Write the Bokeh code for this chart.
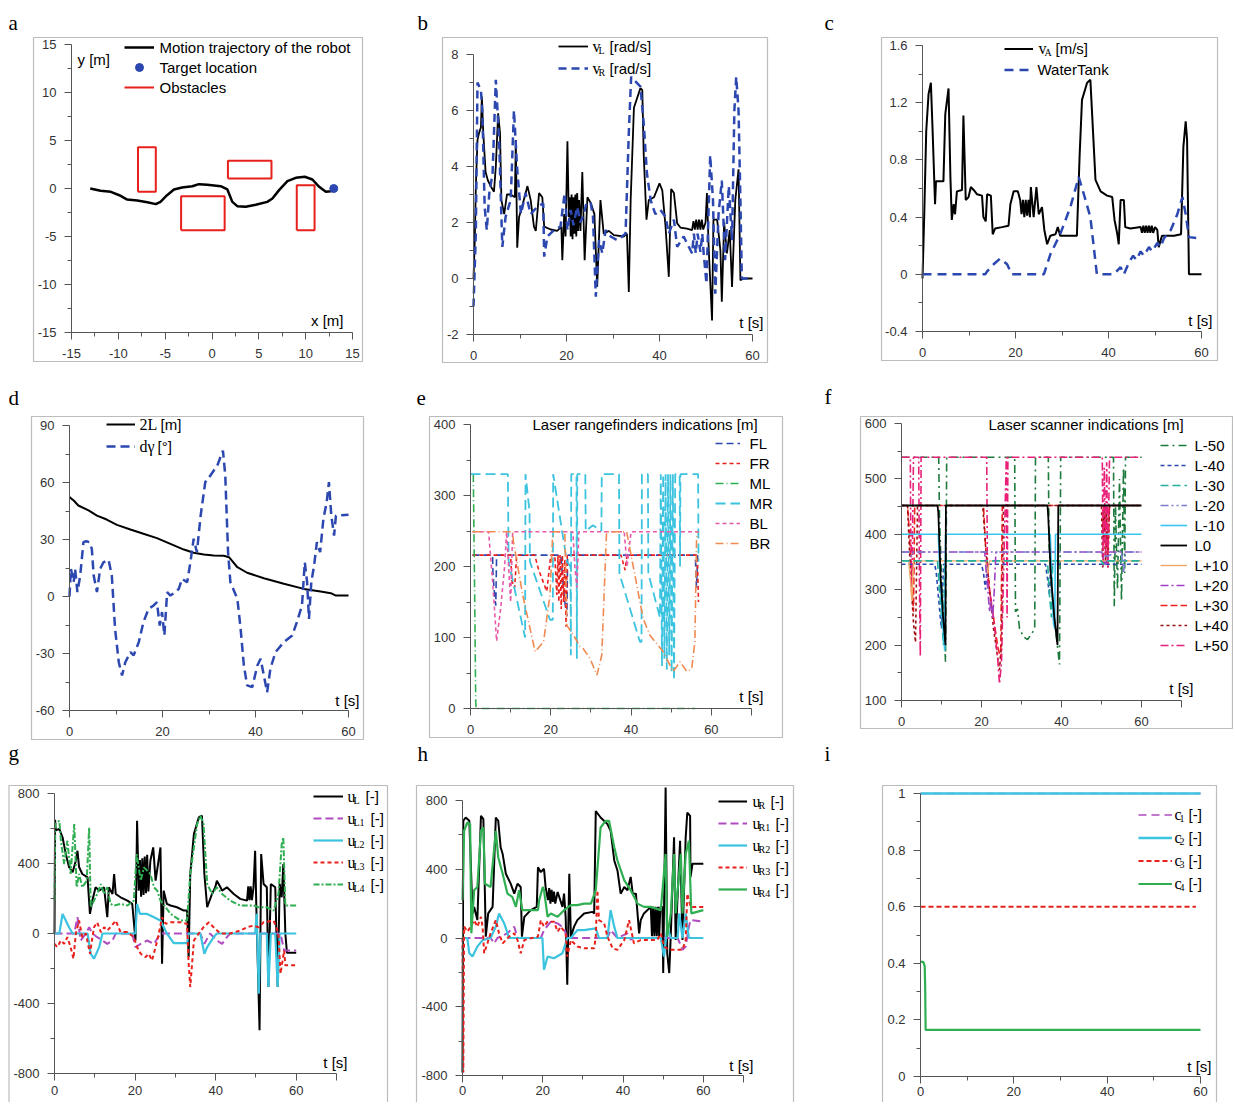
from bokeh.plotting import figure
from bokeh.models import (Range1d, Label, BoxAnnotation, Legend, LegendItem,
                          FixedTicker, CustomJSTickFormatter)
from bokeh.layouts import column, row
from bokeh.embed import file_html
from bokeh.resources import INLINE

SANS = "Liberation Sans"
SERIF = "Liberation Serif"

BLACK = "#000000"; BLUE = "#2c48b0"; RED = "#e8201c"; CYAN = "#3cc3df"
PURPLE = "#b04cc0"; GREEN = "#2fae52"; ORANGE = "#f08a50"; PINK = "#e85aa8"
DKGREEN = "#1e7a3c"; TEAL = "#22b09a"; LAVENDER = "#7c7cd0"; SKY = "#38c6f0"
LORANGE = "#f0a868"; VIOLET = "#a040c0"; BRED = "#f02020"; DKRED = "#9a1010"; MAGENTA = "#e82078"

# ---------------- ticks ----------------
A_TICKS = [-15, -10, -5, 0, 5, 10, 15]
A_MINOR = [-12.5, -7.5, -2.5, 2.5, 7.5, 12.5]
T60 = [0, 20, 40, 60]
T60_MINOR = [10, 30, 50]
T70 = [0, 20, 40, 60, 70]
B_Y = [-2, 0, 2, 4, 6, 8]; B_YM = [-1, 1, 3, 5, 7]
C_Y = [-0.4, 0, 0.4, 0.8, 1.2, 1.6]; C_YM = [-0.2, 0.2, 0.6, 1.0, 1.4]
D_Y = [-60, -30, 0, 30, 60, 90]; D_YM = [-45, -15, 15, 45, 75]
E_Y = [0, 100, 200, 300, 400]; E_YM = [50, 150, 250, 350]
F_Y = [100, 200, 300, 400, 500, 600]; F_YM = [150, 250, 350, 450, 550]
G_Y = [-800, -400, 0, 400, 800]; G_YM = [-600, -200, 200, 600]
I_Y = [0, 0.2, 0.4, 0.6, 0.8, 1]; I_YM = [0.1, 0.3, 0.5, 0.7, 0.9]

# ---------------- panel a ----------------
A_TRAJ = [(-13.0, 0.0), (-11.9, -0.24), (-10.8, -0.35), (-9.9, -0.7), (-9.05, -1.15), (-7.98, -1.25),
          (-6.9, -1.43), (-6.0, -1.63), (-5.5, -1.39), (-4.8, -0.7), (-4.06, -0.1), (-3.2, 0.1),
          (-2.1, 0.24), (-1.4, 0.45), (-0.5, 0.38), (0.93, 0.24), (1.64, -0.1), (2.17, -1.39),
          (2.7, -1.84), (3.6, -1.91), (4.67, -1.7), (5.9, -1.39), (6.45, -1.04), (7.16, -0.17),
          (8.05, 0.76), (8.94, 1.11), (9.9, 1.22), (10.72, 0.94), (11.44, 0.17), (12.15, -0.35),
          (12.68, -0.28), (13.0, -0.03)]
A_TARGET_X = [13.0]
A_TARGET_Y = [0.0]
A_OBS_X0 = [-7.9, -3.3, 1.7, 9.05]
A_OBS_X1 = [-6.0, 1.35, 6.35, 10.95]
A_OBS_Y0 = [-0.35, -4.35, 1.05, -4.35]
A_OBS_Y1 = [4.3, -0.8, 2.9, 0.35]

# ---------------- panel b ----------------
B_VL = [(0, 0), (0.3, 1.5), (0.5, 3.3), (0.86, 4.95), (1.2, 5.2), (1.6, 5.4), (1.8, 6.5), (2.1, 5.2),
        (2.6, 3.8), (3.1, 3.5), (3.7, 3.3), (4.4, 3.1), (4.8, 4.0), (5.3, 5.9), (5.7, 5.2), (6.0, 2.8),
        (6.6, 2.3), (7.2, 3.0), (8.0, 3.0), (8.9, 2.9), (9.1, 4.95), (9.4, 1.1), (9.8, 2.2), (10.5, 2.6),
        (11.6, 3.3), (12.3, 2.8), (13.0, 1.85), (13.4, 1.7), (14.1, 3.05), (14.8, 2.9), (15.2, 1.85),
        (16.6, 1.75), (18.0, 1.7), (18.9, 1.85), (19.1, 0.65), (19.5, 2.3), (19.8, 1.5), (20.2, 4.9),
        (20.5, 2.2), (20.7, 2.9), (20.9, 1.5), (21.1, 3.0), (21.3, 1.4), (21.5, 2.9), (21.7, 1.6),
        (21.9, 3.0), (22.1, 1.5), (22.3, 3.05), (22.5, 1.7), (22.7, 2.8), (23.0, 1.7), (23.4, 3.8),
        (23.9, 0.65), (24.5, 2.9), (25.2, 2.7), (26.0, 2.3), (26.6, -0.3), (27.3, 2.8), (28.0, 1.6),
        (29.1, 1.7), (30.2, 1.55), (32.3, 1.5), (33.0, 1.6), (33.4, -0.48), (33.8, 2.8), (34.5, 6.1),
        (35.9, 6.8), (36.3, 6.73), (36.6, 4.45), (37.2, 2.1), (37.7, 2.8), (38.8, 2.9), (40.0, 3.4),
        (40.6, 3.15), (41.3, 1.85), (42.0, 0.06), (42.5, 3.2), (43.1, 3.05), (43.8, 1.97), (44.5, 1.82),
        (45.9, 1.78), (47.0, 1.73), (47.3, 2.05), (47.6, 1.75), (47.9, 2.1), (48.2, 1.75), (48.5, 2.1),
        (48.8, 1.75), (49.1, 2.1), (49.4, 1.75), (49.9, 2.0), (50.2, 3.05), (50.6, 1.0), (51.3, -1.5),
        (51.6, 2.1), (52.4, 2.1), (53.1, 1.0), (53.4, -0.83), (53.9, 2.0), (54.5, 0.9), (55.1, 1.73),
        (55.6, -0.3), (56.3, 2.8), (57.0, 3.9), (57.4, -0.06), (58.1, 0), (60, 0)]
B_VR = [(0, -1.0), (0.5, 1.6), (0.86, 7.0), (1.6, 6.7), (1.9, 6.0), (2.4, 2.55), (2.86, 1.73), (3.4, 3.05),
        (4.1, 3.75), (4.8, 7.1), (5.5, 4.95), (6.2, 1.13), (6.9, 2.2), (8.0, 2.8), (8.7, 6.0), (9.4, 3.9),
        (10.2, 2.3), (11.2, 3.05), (12.3, 2.3), (13.7, 2.56), (15.0, 2.68), (15.2, 0.78), (15.9, 1.5),
        (17.3, 1.73), (18.7, 1.85), (19.6, 3.05), (20.2, 1.73), (20.9, 2.45), (21.5, 1.9), (22.3, 2.56),
        (23.0, 2.0), (23.7, 2.3), (24.3, 2.7), (25.2, 2.7), (25.7, 2.2), (26.3, -0.65), (27.0, 1.37),
        (27.7, 0.9), (28.4, 1.73), (29.5, 1.5), (30.9, 1.37), (32.7, 1.6), (33.4, 5.2), (33.9, 7.2),
        (35.9, 6.85), (36.6, 5.55), (37.3, 3.75), (38.1, 2.8), (39.1, 2.3), (40.2, 2.45), (41.3, 2.2),
        (42.0, 1.6), (43.1, 2.1), (43.8, 1.13), (45.2, 1.5), (47.0, 0.9), (47.4, 1.6), (47.8, 0.9),
        (48.2, 1.6), (48.8, 0.95), (49.2, 1.6), (49.5, 0.9), (50.1, -0.18), (50.9, 4.4), (51.5, 2.8),
        (52.0, -0.54), (52.7, 2.3), (53.4, 3.5), (54.1, 0.65), (54.9, 3.3), (55.6, 1.37), (56.1, 6.0),
        (56.5, 7.2), (57.0, 6.0), (57.4, 2.8), (57.7, 0), (60, 0)]

# ---------------- panel c ----------------
C_VA = [(0, -0.03), (0.36, 0.4), (0.8, 1.0), (1.3, 1.26), (1.8, 1.34), (2.2, 0.98), (2.7, 0.49), (2.9, 0.65),
        (4.5, 0.65), (4.9, 1.12), (5.6, 1.3), (6.0, 0.68), (6.3, 0.38), (6.7, 0.49), (7.0, 0.42), (7.4, 0.58),
        (8.5, 0.59), (8.8, 1.11), (9.3, 0.52), (9.9, 0.54), (10.4, 0.61), (11.0, 0.59), (11.7, 0.56),
        (12.8, 0.55), (13.1, 0.4), (13.6, 0.37), (13.9, 0.56), (14.7, 0.55), (15.1, 0.28), (15.6, 0.32),
        (17.1, 0.33), (18.5, 0.34), (18.9, 0.49), (19.6, 0.58), (20.5, 0.58), (21.0, 0.52), (21.3, 0.42),
        (21.6, 0.52), (21.9, 0.4), (22.2, 0.52), (22.5, 0.41), (22.8, 0.52), (23.1, 0.4), (23.3, 0.61),
        (23.9, 0.4), (24.5, 0.61), (25.0, 0.42), (25.7, 0.47), (26.2, 0.31), (26.8, 0.21), (27.5, 0.27),
        (28.6, 0.28), (29.1, 0.33), (29.6, 0.27), (33.2, 0.27), (33.8, 0.84), (34.3, 1.22), (35.4, 1.34),
        (36.1, 1.36), (36.7, 0.98), (37.2, 0.66), (38.3, 0.58), (39.7, 0.55), (40.8, 0.54), (41.3, 0.38),
        (41.9, 0.28), (42.2, 0.21), (42.6, 0.52), (43.3, 0.52), (43.6, 0.33), (44.7, 0.32), (46.9, 0.33),
        (47.2, 0.29), (47.5, 0.34), (47.8, 0.29), (48.1, 0.34), (48.4, 0.29), (48.7, 0.34), (49.0, 0.29),
        (49.3, 0.34), (49.6, 0.29), (50.0, 0.33), (50.5, 0.31), (50.8, 0.19), (51.5, 0.27), (54.1, 0.27),
        (55.6, 0.28), (56.1, 0.89), (56.6, 1.07), (56.9, 0.94), (57.3, 0.0), (60, 0.0)]
C_WT = [(0, 0), (13.5, 0), (13.9, 0.02), (15.3, 0.07), (16.7, 0.11), (18.2, 0.07), (19.2, 0), (26.1, 0),
        (27.5, 0.14), (29.6, 0.28), (31.8, 0.47), (33.6, 0.68), (34.7, 0.56), (36.1, 0.4), (37.5, 0),
        (41.1, 0), (42.6, 0.05), (43.3, 0), (44.5, 0.09), (45.3, 0.13), (46.0, 0.1), (46.9, 0.16),
        (47.6, 0.13), (48.7, 0.19), (49.4, 0.16), (50.5, 0.22), (51.2, 0.19), (51.9, 0.25), (53.4, 0.31),
        (54.8, 0.42), (55.9, 0.54), (56.6, 0.42), (57.3, 0.26), (60, 0.25)]

# ---------------- panel d ----------------
D_2L = [(0, 52.3), (0.9, 50.5), (1.9, 47.9), (4.1, 45.3), (5.9, 42.6), (8.0, 40.5), (10.2, 37.7),
        (13.1, 35.3), (15.9, 33.0), (18.8, 30.7), (21.7, 27.7), (24.6, 24.7), (26.7, 23.0), (28.9, 22.1),
        (31.0, 21.6), (33.2, 21.4), (34.3, 20.7), (36.1, 15.4), (38.2, 12.5), (41.8, 9.6), (46.1, 6.7),
        (50.4, 4.0), (54.0, 2.6), (56.2, 1.75), (57.3, 0.5), (60, 0.5)]
D_DG = [(0, 0), (0.3, 14.6), (0.9, 7.5), (1.2, 14.6), (1.7, 2.3), (2.3, 11), (3.0, 28.6), (3.6, 29.1),
        (4.3, 28.6), (4.8, 25.1), (5.2, 11), (5.9, 2.3), (6.6, 14.6), (7.3, 18), (8.4, 19.3), (9.1, 11),
        (9.8, -17), (10.6, -34.6), (11.3, -41.6), (12.0, -34.6), (13.1, -29.3), (13.8, -31), (14.9, -24),
        (15.9, -13.5), (17.0, -6.5), (18.1, -4.7), (18.8, -3), (19.4, -15.3), (19.9, -8.2), (20.4, -20.5),
        (21.0, 2.3), (21.7, 0.5), (22.8, 2.3), (23.5, 4.0), (24.2, 9.3), (25.3, 7.5), (26.0, 18),
        (26.7, 30.4), (27.4, 23.3), (28.2, 42.6), (29.2, 60.2), (30.3, 63.7), (31.8, 69.0), (33.0, 76.8),
        (33.5, 63.7), (34.1, 23.3), (34.6, 7.5), (36.1, -1.2), (36.8, -17), (37.5, -36.3), (38.2, -46.8),
        (39.3, -47.7), (40.4, -36.3), (41.1, -32.8), (41.8, -41.6), (42.5, -50.4), (43.2, -38),
        (44.3, -29.3), (46.1, -24), (47.9, -20.5), (48.9, -13.5), (50.0, -4.7), (50.6, 18), (51.1, 7.5),
        (51.5, -11.8), (52.0, 7.5), (52.6, 16.3), (53.2, 28.6), (53.9, 23.3), (54.6, 40.8), (55.3, 49.6),
        (55.8, 60.2), (56.3, 42.6), (56.9, 32.1), (57.3, 42.6), (60, 43)]

# ---------------- panel e ----------------
E_FL = [(0.5, 216), (5.5, 216), (5.6, 190), (6.0, 160), (6.3, 145), (6.5, 216), (22.5, 216), (23.0, 180),
        (23.5, 150), (24.0, 130), (24.2, 216), (56.0, 216), (56.3, 170), (56.6, 216)]
E_FR = [(0.5, 216), (10.0, 216), (10.3, 180), (11.0, 170), (11.5, 216), (16.0, 216), (17.0, 195),
        (19.0, 165), (20.0, 216), (21.0, 216), (21.5, 160), (21.8, 216), (22.0, 150), (22.3, 216),
        (22.6, 140), (22.9, 216), (23.2, 150), (23.5, 210), (23.8, 115), (24.1, 216), (37.5, 216),
        (38.5, 195), (39.0, 216), (56.5, 216), (56.8, 150)]
E_ML = [(0.7, 330), (1.0, 180), (1.3, 10), (1.4, 0), (56.0, 0)]
E_MR = [(0, 330), (9.3, 330), (9.5, 207), (13.6, 100), (13.7, 330), (14.7, 278), (14.8, 207), (19.8, 125),
        (20.5, 125), (20.6, 330), (24.0, 207), (24.9, 200), (25.0, 75), (25.1, 330), (26.4, 330),
        (26.5, 70), (26.6, 330), (28.6, 330), (28.7, 250), (30.5, 258), (32.6, 250), (32.7, 330),
        (37.0, 330), (37.1, 190), (42.2, 94), (42.6, 94), (42.7, 330), (44.2, 330), (44.3, 190),
        (47.2, 128), (47.4, 330), (47.7, 60), (48.0, 330), (48.3, 70), (48.6, 330), (48.9, 55),
        (49.2, 330), (49.5, 75), (49.8, 330), (50.1, 50), (50.4, 330), (50.7, 40), (51.0, 330),
        (52.1, 330), (52.2, 200), (52.3, 330), (56.7, 330), (56.8, 207)]
E_BL = [(0.5, 249), (4.5, 249), (5.5, 180), (6.5, 95), (7.5, 140), (8.5, 200), (9.0, 249), (10.0, 150),
        (10.5, 249), (25.5, 249), (26.0, 200), (26.5, 170), (27.0, 249), (38.3, 249), (39.0, 200),
        (40.0, 249), (57.0, 249)]
E_BR = [(0.5, 249), (10.5, 249), (10.7, 235), (13.0, 160), (16.1, 80), (18.2, 94), (19.8, 160), (20.5, 249),
        (23.5, 249), (24.0, 117), (26.0, 100), (27.3, 87), (28.0, 85), (29.8, 70), (31.5, 47), (32.7, 75),
        (33.5, 192), (33.9, 249), (38.9, 249), (43.0, 127), (44.7, 103), (48.0, 80), (50.5, 52),
        (52.2, 66), (53.9, 52), (55.1, 56), (55.9, 94), (56.3, 235), (56.5, 249)]

# ---------------- panel f ----------------
F_LM50 = [(0, 539), (9.3, 539), (9.5, 430), (10.0, 320), (10.5, 250), (11.0, 170), (11.3, 539), (28.3, 539),
          (28.5, 260), (29.0, 265), (29.5, 230), (30.5, 215), (31.5, 210), (32.5, 220), (33.3, 230),
          (33.5, 539), (36.7, 539), (36.9, 380), (37.5, 300), (38.5, 230), (39.5, 165), (39.8, 539),
          (53.0, 539), (53.2, 270), (53.5, 450), (54.0, 300), (54.5, 500), (55.0, 280), (55.5, 520),
          (55.8, 330), (56.0, 539), (60, 539)]
F_LM40 = [(0, 346), (8.3, 346), (8.7, 330), (9.2, 290), (9.7, 250), (10.0, 230), (10.5, 346), (20.0, 346),
          (20.5, 330), (21.0, 300), (21.5, 346), (36.0, 346), (36.5, 320), (37.0, 290), (37.3, 346), (60, 346)]
F_LM30 = [(0, 352), (9.0, 352), (9.5, 300), (10.0, 250), (10.5, 200), (10.8, 352), (36.5, 352), (37.0, 290),
          (37.5, 250), (37.8, 352), (50.0, 352), (50.5, 345), (51.0, 352), (60, 352)]
F_LM20 = [(0, 368), (2.0, 368), (2.5, 360), (3.0, 368), (50.0, 368), (51.0, 360), (55.0, 370), (55.5, 330),
          (56.0, 368), (60, 368)]
F_LM10 = [(0, 400), (9.2, 400), (9.6, 330), (10.2, 250), (10.8, 190), (11.0, 400), (37.2, 400), (37.5, 330),
          (38.0, 240), (38.3, 230), (38.5, 400), (60, 400)]
F_L0 = [(0, 452), (9.0, 452), (9.2, 440), (9.8, 320), (10.4, 250), (11.0, 200), (11.1, 452), (36.5, 452),
        (36.7, 430), (37.3, 330), (38.2, 250), (39.0, 200), (39.2, 452), (60, 452)]
F_LP10 = [(0, 352), (1.8, 352), (2.2, 320), (2.6, 280), (3.0, 352), (21.0, 352), (21.5, 330), (22.0, 352),
          (60, 352)]
F_LP20 = [(0, 368), (20.8, 368), (21.2, 330), (21.6, 300), (22.0, 260), (22.4, 280), (22.8, 250), (23.2, 300),
          (23.6, 368), (50.0, 368), (51.0, 345), (52.0, 368), (60, 368)]
F_LP30 = [(0, 452), (1.5, 452), (2.0, 400), (2.5, 330), (3.0, 260), (3.3, 452), (20.5, 452), (21.0, 380),
          (22.0, 300), (23.0, 250), (24.0, 200), (24.8, 175), (25.2, 452), (50.3, 452), (50.5, 380),
          (51.0, 450), (51.5, 350), (52.0, 452), (60, 452)]
F_LP40 = [(0, 452), (1.5, 452), (2.0, 370), (2.5, 300), (3.0, 240), (3.5, 205), (4.0, 452), (20.3, 452),
          (21.0, 380), (22.0, 300), (23.0, 230), (24.0, 180), (24.5, 155), (25.0, 200), (25.5, 452),
          (50.0, 452), (50.3, 340), (50.6, 450), (51.0, 350), (51.3, 440), (51.6, 340), (52.0, 452), (60, 452)]
F_LP50 = [(0, 539), (2.2, 539), (2.3, 420), (2.6, 300), (3.0, 539), (4.3, 539), (4.5, 300), (4.7, 180),
          (4.9, 539), (21.3, 539), (21.5, 320), (22.0, 300), (23.0, 250), (24.0, 180), (24.5, 130),
          (25.0, 170), (26.2, 539), (26.4, 250), (26.6, 539), (50.2, 539), (50.4, 340), (50.7, 520),
          (51.0, 360), (51.3, 530), (51.6, 340), (52.0, 539), (60, 539)]

# ---------------- panel g ----------------
G_UL = [(0, 0), (0.15, 650), (0.3, 590), (1.2, 597), (2.0, 550), (2.8, 455), (3.6, 380), (4.5, 350),
        (5.3, 416), (5.7, 473), (6.1, 380), (6.9, 340), (8.2, 321), (8.8, 112), (9.4, 188), (10.2, 264),
        (11.1, 245), (12.3, 264), (13.1, 93), (13.5, 264), (14.4, 226), (14.8, 340), (15.2, 226),
        (16.4, 207), (18.1, 188), (19.3, 169), (20.1, -40), (20.5, 644), (20.9, 245), (21.2, 420),
        (21.5, 210), (21.8, 430), (22.1, 220), (22.4, 440), (22.7, 230), (23.0, 450), (23.3, 240),
        (23.8, 416), (24.5, 492), (25.1, 302), (26.3, 492), (26.7, -173), (27.1, 245), (27.9, 169),
        (28.8, 160), (30.4, 150), (32.1, 131), (32.9, 131), (33.3, -135), (33.7, 340), (34.6, 568),
        (35.8, 663), (36.6, 673), (37.2, 340), (37.9, 150), (39.1, 226), (39.9, 264), (40.3, 302),
        (41.2, 264), (41.6, 245), (42.8, 264), (44.5, 226), (46.1, 198), (47.8, 188), (48.1, 270),
        (48.4, 190), (48.7, 270), (49.0, 190), (49.4, 264), (49.8, 473), (50.1, 150), (50.4, -116),
        (50.9, -553), (51.3, 454), (51.9, 283), (52.7, 264), (53.1, -306), (53.7, 283), (54.8, 264),
        (55.4, -306), (55.9, 283), (56.4, 207), (56.8, 397), (57.3, 0), (57.7, -110), (60, -110)]
G_UL1 = [(0, 0), (4.9, 0), (5.7, 93), (6.5, -40), (7.8, 0), (8.6, 36), (9.4, 0), (10.6, -21), (11.9, -40),
         (13.1, -59), (14.4, -40), (15.2, 0), (19.3, 0), (20.1, -78), (21.4, -59), (23.0, -40), (24.7, -59),
         (26.3, 0), (36.2, 0), (37.2, -59), (38.6, 0), (40.3, -40), (41.6, -59), (42.8, -21), (43.6, 0),
         (56.1, 0), (57.0, -97), (60, -97)]
G_UL2 = [(0, 0), (1.2, 0), (2.0, 112), (2.8, 74), (3.6, 36), (4.5, 0), (8.2, 0), (9.0, -116), (9.8, -144),
         (11.1, -78), (11.9, 0), (20.1, 0), (20.5, 169), (21.2, 112), (23.0, 112), (24.7, 93), (26.3, 74),
         (27.9, 0), (29.6, -55), (32.9, -55), (33.3, 0), (36.2, 0), (37.2, -116), (37.9, -78), (39.5, -21),
         (40.3, 0), (49.8, 0), (50.2, 112), (50.7, -344), (51.1, 0), (52.7, 0), (53.1, -306), (53.7, 0),
         (54.8, 0), (55.4, -306), (55.9, 0), (60, 0)]
G_UL3 = [(0, -59), (0.7, -78), (1.6, -40), (2.4, -59), (3.2, -21), (4.0, -78), (4.7, -144), (5.3, 0),
         (6.1, 74), (6.9, -21), (7.8, 0), (8.8, -116), (9.8, 36), (10.6, 64), (11.5, 8), (12.3, 36),
         (13.1, 17), (13.9, 36), (15.2, 74), (16.4, 8), (18.1, 8), (19.7, -21), (20.5, -78), (21.4, -116),
         (22.6, -135), (23.4, -116), (24.2, -154), (25.1, -78), (25.9, 0), (26.7, 93), (27.6, 55),
         (28.8, 64), (31.3, 64), (32.9, 55), (33.3, -173), (33.7, -306), (34.6, -40), (35.8, 0), (37.0, 36),
         (38.3, 64), (39.5, 36), (41.2, 0), (43.6, 0), (46.1, 17), (47.8, 36), (49.4, 45), (50.7, 36),
         (51.9, 64), (54.4, 74), (55.6, 0), (56.1, -230), (57.0, -97), (57.3, -182), (60, -182)]
G_UL4 = [(0, 188), (0.2, 625), (1.2, 644), (1.6, 530), (2.4, 397), (3.2, 530), (4.0, 340), (4.9, 625),
         (5.5, 264), (6.1, 340), (6.9, 264), (8.0, 302), (8.6, 606), (9.0, 150), (9.8, 188), (10.6, 226),
         (11.5, 283), (12.3, 226), (13.1, 264), (13.9, 169), (14.8, 160), (16.4, 169), (18.1, 160),
         (19.7, 188), (20.4, 454), (21.4, 302), (22.2, 378), (23.0, 359), (23.8, 340), (24.7, 264),
         (25.5, 245), (26.3, 188), (27.6, 150), (28.8, 112), (31.3, 74), (32.9, 74), (33.7, 340),
         (35.4, 625), (36.2, 673), (37.0, 625), (37.9, 283), (39.1, 226), (40.3, 264), (41.6, 226),
         (43.6, 188), (46.1, 160), (49.4, 160), (50.7, 150), (52.7, 150), (54.4, 131), (55.6, 226),
         (56.4, 511), (56.8, 549), (57.3, 160), (60, 160)]

# ---------------- panel h ----------------
H_UR = [(0, -782), (0.2, 682), (0.8, 701), (1.7, 682), (2.5, 143), (2.9, 181), (3.7, 104), (4.6, 711),
        (5.2, 692), (5.8, 8), (6.4, 143), (7.5, 181), (8.3, 701), (8.9, 682), (9.5, 528), (10.0, 489),
        (10.8, 374), (12.0, 316), (12.9, 258), (13.7, 316), (14.5, 297), (14.8, 8), (15.4, 123), (17.0, 162),
        (18.5, 181), (18.8, 412), (19.5, 383), (20.3, 403), (20.7, 297), (21.3, 220), (21.6, 290),
        (21.9, 200), (22.2, 280), (22.5, 210), (22.8, 270), (23.1, 200), (23.7, 268), (24.9, 181),
        (25.3, 258), (25.7, 123), (26.1, -272), (26.6, 374), (27.0, 8), (27.8, 66), (28.6, 104), (30.3, 143),
        (32.4, 152), (32.8, 143), (33.2, 739), (34.4, 701), (36.1, 663), (36.9, 624), (37.8, 451),
        (38.6, 393), (39.4, 258), (40.3, 297), (41.1, 278), (41.9, 355), (42.4, 258), (43.2, 258),
        (43.6, 143), (44.0, 27), (44.4, 104), (45.2, 143), (46.9, 181), (47.2, 10), (47.5, 181), (47.8, 10),
        (48.1, 181), (48.4, 10), (48.7, 181), (49.0, 10), (49.3, 181), (49.8, 181), (50.0, -204),
        (50.6, 875), (51.0, -89), (51.5, -204), (51.9, 27), (52.7, 586), (53.1, -12), (54.2, 566),
        (54.8, -12), (55.6, 586), (56.0, 730), (56.7, 711), (56.8, 355), (57.3, 432), (60, 432)]
H_UR1 = [(0, 0), (7.0, 0), (7.9, -31), (8.7, 0), (11.2, 27), (12.0, 46), (12.9, 66), (13.7, 0), (19.5, 0),
         (20.3, 46), (22.0, 95), (23.7, 85), (25.3, 56), (26.1, 0), (36.1, 0), (36.9, 46), (38.6, 0),
         (41.1, 27), (41.9, -10), (42.7, 0), (53.6, 0), (54.8, -69), (55.6, -50), (56.4, 66), (56.8, 104),
         (60, 95)]
H_UR2 = [(0, 0), (1.2, 0), (1.7, -89), (2.5, -108), (3.7, -50), (5.0, -12), (7.0, 0), (8.3, 66), (9.1, 143),
         (10.4, 85), (11.6, 0), (19.9, 0), (20.3, -185), (21.2, -108), (22.8, -118), (24.9, -89), (26.1, 0),
         (27.0, 0), (28.6, 46), (30.3, 46), (33.2, 56), (34.0, 0), (36.1, 0), (36.9, 162), (37.8, 66),
         (38.6, 0), (49.4, 0), (50.2, -108), (51.0, 66), (51.9, 0), (53.6, 0), (54.0, 143), (54.8, 0),
         (55.6, 143), (56.4, 0), (60, 0)]
H_UR3 = [(0, 0), (0.2, -782), (0.4, 66), (1.2, 37), (2.1, 66), (2.9, 104), (3.7, 66), (4.6, 123), (5.0, 66),
         (5.4, -89), (6.2, -31), (7.0, 27), (8.3, 104), (9.1, 27), (10.0, -31), (10.8, -12), (11.6, 8),
         (12.9, 27), (13.7, -12), (14.5, -89), (15.4, -12), (17.0, -2), (18.8, 8), (19.5, 104), (20.3, 66),
         (21.2, 95), (22.8, 95), (23.7, 37), (24.5, 66), (25.7, 27), (26.1, -108), (27.0, -12), (28.6, -50),
         (30.3, -60), (32.8, -60), (33.2, 8), (33.6, 278), (34.0, 104), (35.3, 85), (36.1, 8), (37.4, -60),
         (38.6, -69), (40.3, -12), (41.5, 104), (42.7, -31), (44.4, -12), (48.5, -12), (49.4, 27),
         (50.2, -50), (51.5, -69), (54.8, -69), (55.6, -12), (56.0, 258), (56.8, 181), (60, 181)]
H_UR4 = [(0, 220), (0.4, 624), (1.2, 672), (1.9, 663), (2.2, 27), (2.9, 278), (3.7, 297), (4.6, 624),
         (5.2, 643), (5.6, 316), (7.0, 297), (8.3, 624), (8.9, 470), (10.0, 374), (11.2, 258), (12.4, 239),
         (13.3, 181), (14.1, 278), (14.9, 162), (17.0, 162), (18.8, 162), (19.1, 220), (20.0, 297),
         (20.3, 278), (21.2, 123), (22.0, 143), (23.7, 123), (25.3, 162), (27.0, 191), (28.6, 191),
         (30.3, 200), (32.0, 200), (33.2, 278), (34.4, 643), (35.7, 682), (36.5, 682), (37.8, 528),
         (38.6, 451), (40.3, 335), (41.9, 278), (43.6, 200), (45.2, 181), (46.9, 181), (49.4, 162),
         (50.6, 489), (51.0, 8), (51.9, 143), (52.7, 489), (53.1, 143), (54.4, 489), (54.8, 143),
         (55.6, 489), (56.4, 566), (57.0, 143), (60, 162)]

# ---------------- panel i ----------------
I_C1 = [(0, 1.0), (60, 1.0)]
I_C2 = [(0, 1.0), (60, 1.0)]
I_C3 = [(0, 0.6), (59, 0.6)]
I_C4 = [(0, 0.405), (0.6, 0.405), (0.9, 0.39), (1.0, 0.32), (1.1, 0.165), (60, 0.165)]


def xy(pairs):
    return [q[0] for q in pairs], [q[1] for q in pairs]


def formatter(hide=None):
    if hide is None:
        return CustomJSTickFormatter(code="return String(tick);")
    return CustomJSTickFormatter(code="return tick == %s ? '' : String(tick);" % hide)


class Panel:
    """cell = (ox, oy, w, h) page px; axes = (l, t, r, b) page px of the plot area
    corresponding to x0..x1 / y1..y0.  The frame fills the whole cell; the axes are
    placed at the plot-area edges with fixed_location."""

    def __init__(self, cell, axes, xr, yr, xt, yt, box, letter, lxy, xhide=None, xstand=9):
        ox, oy, w, h = cell
        self.ox, self.oy, self.w, self.h = cell
        self.l, self.t, self.r, self.b = axes
        self.xr, self.yr = xr, yr
        p = figure(width=w, height=h,
                   x_range=Range1d(self.dx(ox), self.dx(ox + w)),
                   y_range=Range1d(self.dy(oy + h), self.dy(oy)),
                   output_backend="svg", toolbar_location=None, min_border=0)
        p.title.visible = False
        p.xgrid.visible = False
        p.ygrid.visible = False
        p.outline_line_color = None
        p.background_fill_color = "white"
        p.border_fill_color = "white"
        for ax, (maj, mino), hide, stand in ((p.xaxis[0], xt, xhide, xstand), (p.yaxis[0], yt, None, 8)):
            ax.ticker = FixedTicker(ticks=maj, minor_ticks=mino)
            ax.formatter = formatter(hide)
            ax.axis_line_color = "#555555"
            ax.axis_line_width = 1
            ax.major_tick_line_color = "#555555"
            ax.minor_tick_line_color = "#555555"
            ax.major_tick_in = 0
            ax.major_tick_out = 7
            ax.minor_tick_in = 0
            ax.minor_tick_out = 4
            ax.major_label_text_font = SANS
            ax.major_label_text_font_size = "13px"
            ax.major_label_text_color = "#333333"
            ax.major_label_standoff = stand
        p.xaxis[0].fixed_location = yr[0]
        p.xaxis[0].bounds = xr
        p.yaxis[0].fixed_location = xr[0]
        p.yaxis[0].bounds = yr
        bx0, by0, bx1, by1 = box
        p.add_layout(BoxAnnotation(left=self.dx(bx0), right=self.dx(bx1),
                                   top=self.dy(by0), bottom=self.dy(by1),
                                   fill_alpha=0, fill_color=None, line_color="#222222",
                                   line_width=1.2, level="underlay"))
        p.add_layout(Label(x=self.dx(lxy[0]), y=self.dy(lxy[1]), text=letter, text_font=SERIF,
                           text_font_size="21px", text_baseline="alphabetic", text_color="#000000"))
        self.p = p

    def dx(self, X):
        return self.xr[0] + (X - self.l) / (self.r - self.l) * (self.xr[1] - self.xr[0])

    def dy(self, Y):
        return self.yr[1] - (Y - self.t) / (self.b - self.t) * (self.yr[1] - self.yr[0])

    def line(self, pairs, color, width=2.0, dash="solid"):
        xs, ys = xy(pairs)
        return self.p.line(xs, ys, line_color=color, line_width=width, line_dash=dash)

    def text(self, X, Y, s, kind="sans", align="left"):
        font, size, off = {"sans": (SANS, "15px", 0), "serif": (SERIF, "16px", 0),
                           "sub": (SERIF, "10px", 4)}[kind]
        self.p.add_layout(Label(x=self.dx(X), y=self.dy(Y + off), text=s, text_font=font,
                                text_font_size=size, text_baseline="middle", text_align=align,
                                text_color="#000000"))

    def legend(self, rends, sx0, sx1, y0, gh, rows):
        n = len(rends)
        top = y0 - gh / 2.0
        vx = sx0 - self.ox
        vy = (self.oy + self.h) - top - n * gh
        leg = Legend(items=[LegendItem(label=" ", renderers=[r]) for r in rends],
                     location=(vx, vy), orientation="vertical",
                     glyph_width=int(sx1 - sx0), glyph_height=gh, label_height=gh, label_width=0,
                     label_standoff=0, padding=0, spacing=0, margin=0,
                     background_fill_alpha=0, border_line_alpha=0, label_text_font_size="1px")
        self.p.add_layout(leg)
        for i, pieces in enumerate(rows):
            yc = y0 + i * gh
            for X, s, kind in pieces:
                self.text(X, yc, s, kind)


W2 = 413   # right column width
H2 = 362   # bottom row height

# ================= panel a =================
A = Panel((0, 0, 410, 375), (71, 44, 352, 332), (-15, 15), (-15, 15), (A_TICKS, A_MINOR), (A_TICKS, A_MINOR),
          (33, 37, 362, 361), "a", (8, 22))
ax_, ay_ = xy(A_TRAJ)
ra1 = A.p.line(ax_, ay_, line_color=BLACK, line_width=2.5)
ra2 = A.p.scatter(A_TARGET_X, A_TARGET_Y, size=8, marker="circle", fill_color=BLUE, line_color=BLUE)
obs_xs = [[x0, x1, x1, x0, x0] for x0, x1 in zip(A_OBS_X0, A_OBS_X1)]
obs_ys = [[y0, y0, y1, y1, y0] for y0, y1 in zip(A_OBS_Y0, A_OBS_Y1)]
ra3 = A.p.multi_line(obs_xs, obs_ys, line_color=RED, line_width=2)
A.legend([ra1, ra2, ra3], 124, 154, 47, 20,
         [[(159, "Motion trajectory of the robot", "sans")], [(159, "Target location", "sans")],
          [(159, "Obstacles", "sans")]])
A.text(77, 59, "y [m]")
A.text(343, 320, "x [m]", align="right")

# ================= panel b =================
B = Panel((410, 0, 410, 375), (473, 54, 752, 334), (0, 60), (-2, 8), (T60, T60_MINOR), (B_Y, B_YM),
          (442, 37, 767, 362), "b", (417, 22))
rb1 = B.line(B_VL, BLACK, 1.8)
rb2 = B.line(B_VR, BLUE, 2.5, "8 5")
B.legend([rb1, rb2], 558, 588, 46, 22,
         [[(592, "v", "serif"), (598, "L", "sub"), (609, "[rad/s]", "sans")],
          [(592, "v", "serif"), (598, "R", "sub"), (609, "[rad/s]", "sans")]])
B.text(763, 322, "t [s]", align="right")

# ================= panel c =================
C = Panel((820, 0, W2, 375), (922, 45, 1201, 331), (0, 60), (-0.4, 1.6), (T60, T60_MINOR), (C_Y, C_YM),
          (881, 37, 1217, 360), "c", (824, 22))
rc1 = C.line(C_VA, BLACK, 2.0)
rc2 = C.line(C_WT, BLUE, 2.5, "9 6")
C.legend([rc1, rc2], 1004, 1033, 48, 21,
         [[(1038, "v", "serif"), (1044, "A", "sub"), (1055, "[m/s]", "sans")],
          [(1037, "WaterTank", "sans")]])
C.text(1212, 320, "t [s]", align="right")

# ================= panel d =================
D = Panel((0, 375, 410, 365), (69, 425, 348, 710), (0, 60), (-60, 90), (T60, T60_MINOR), (D_Y, D_YM),
          (31, 416, 363, 739), "d", (8, 397))
rd1 = D.line(D_2L, BLACK, 2.0)
rd2 = D.line(D_DG, BLUE, 2.5, "9 5")
D.legend([rd1, rd2], 106, 135, 424, 22,
         [[(139, "2L", "serif"), (160, "[m]", "sans")],
          [(139, "dγ", "serif"), (157, "[°]", "sans")]])
D.text(359, 700, "t [s]", align="right")

# ================= panel e =================
E = Panel((410, 375, 410, 365), (470, 424, 751, 708), (0, 70), (0, 400), (T70, T60_MINOR), (E_Y, E_YM),
          (429, 416, 782, 737), "e", (416, 397), xhide=70)
re1 = E.line(E_FL, BLUE, 1.6, "7 4")
re2 = E.line(E_FR, RED, 1.6, "4 3")
re3 = E.line(E_ML, GREEN, 1.6, "8 3 1 3")
re4 = E.line(E_MR, CYAN, 1.8, "10 5")
re5 = E.line(E_BL, PINK, 1.6, "4 3")
re6 = E.line(E_BR, ORANGE, 1.6, "8 3 1 3")
E.legend([re1, re2, re3, re4, re5, re6], 715, 740, 443, 20,
         [[(749, s, "sans")] for s in ["FL", "FR", "ML", "MR", "BL", "BR"]])
E.text(532, 424, "Laser rangefinders indications [m]")
E.text(763, 696, "t [s]", align="right")

# ================= panel f =================
F = Panel((820, 375, W2, 365), (901, 423, 1181, 700), (0, 70), (100, 600), (T70, T60_MINOR), (F_Y, F_YM),
          (860, 416, 1232, 728), "f", (824, 396), xhide=70)
# drawing order (bottom to top)
f_p30 = F.line(F_LP30, BRED, 1.6, "7 3")
f_p40 = F.line(F_LP40, DKRED, 1.6, "3 3")
f_m50 = F.line(F_LM50, DKGREEN, 1.6, "8 4 2 4")
f_p50 = F.line(F_LP50, MAGENTA, 1.6, "8 3 2 3")
f_m40 = F.line(F_LM40, BLUE, 1.6, "4 3")
f_p10 = F.line(F_LP10, LORANGE, 1.4)
f_m30 = F.line(F_LM30, TEAL, 1.6, "8 4")
f_p20 = F.line(F_LP20, VIOLET, 1.6, "8 3 2 3")
f_m20 = F.line(F_LM20, LAVENDER, 1.6, "8 3 2 3 2 3")
f_m10 = F.line(F_LM10, SKY, 1.6)
f_l0 = F.line(F_L0, BLACK, 1.8)
F.legend([f_m50, f_m40, f_m30, f_m20, f_m10, f_l0, f_p10, f_p20, f_p30, f_p40, f_p50], 1160, 1187, 445, 20,
         [[(1194, s, "sans")] for s in ["L-50", "L-40", "L-30", "L-20", "L-10", "L0",
                                        "L+10", "L+20", "L+30", "L+40", "L+50"]])
F.text(988, 424, "Laser scanner indications [m]")
F.text(1193, 688, "t [s]", align="right")

# ================= panel g =================
G = Panel((0, 740, 410, H2), (54, 793, 336, 1073), (0, 70), (-800, 800), (T70, T60_MINOR), (G_Y, G_YM),
          (8.5, 785, 387, 1110), "g", (8, 752), xhide=70, xstand=5)
rg = [G.line(G_UL, BLACK, 2.0),
      G.line(G_UL1, PURPLE, 2.0, "8 4"),
      G.line(G_UL2, CYAN, 2.2),
      G.line(G_UL3, RED, 2.0, "4 3"),
      G.line(G_UL4, GREEN, 2.0, "6 2 2 2")]
G.legend(rg, 313, 343, 796, 22,
         [[(347, "u", "serif"), (353, "L", "sub"), (365, "[-]", "sans")]] +
         [[(347, "u", "serif"), (353, "L%d" % k, "sub"), (370, "[-]", "sans")] for k in range(1, 5)])
G.text(347, 1062, "t [s]", align="right")

# ================= panel h =================
H = Panel((410, 740, 410, H2), (462, 800, 743, 1075), (0, 70), (-800, 800), (T70, T60_MINOR), (G_Y, G_YM),
          (416, 785, 793, 1110), "h", (417, 753), xhide=70, xstand=3)
rh = [H.line(H_UR, BLACK, 2.0),
      H.line(H_UR1, PURPLE, 2.0, "8 4"),
      H.line(H_UR2, CYAN, 2.2),
      H.line(H_UR3, RED, 2.0, "4 3"),
      H.line(H_UR4, GREEN, 2.2)]
H.legend(rh, 718, 747, 801, 22,
         [[(752, "u", "serif"), (758, "R", "sub"), (770, "[-]", "sans")]] +
         [[(752, "u", "serif"), (758, "R%d" % k, "sub"), (775, "[-]", "sans")] for k in range(1, 5)])
H.text(753, 1065, "t [s]", align="right")

# ================= panel i =================
I = Panel((820, 740, W2, H2), (920, 793, 1200, 1076), (0, 60), (0, 1), (T60, T60_MINOR), (I_Y, I_YM),
          (882, 785, 1216, 1110), "i", (824, 753), xstand=3)
ri = [I.line(I_C1, PURPLE, 1.6, "8 5"),
      I.line(I_C2, CYAN, 2.6),
      I.line(I_C3, RED, 2.0, "5 3"),
      I.line(I_C4, GREEN, 2.2)]
I.legend(ri, 1138, 1172, 814, 23,
         [[(1174, "c", "serif"), (1179, str(k), "sub"), (1188, "[-]", "sans")] for k in range(1, 5)])
I.text(1211, 1066, "t [s]", align="right")

layout = column(row(A.p, B.p, C.p), row(D.p, E.p, F.p), row(G.p, H.p, I.p))
open("out.html", "w").write(file_html(layout, INLINE))
